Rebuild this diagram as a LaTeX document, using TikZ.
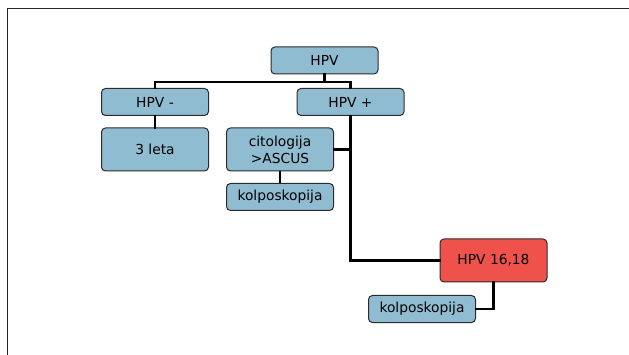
\documentclass[tikz,border=0pt]{standalone}
\usepackage{fontspec}
\setmainfont{DejaVu Sans}
\usetikzlibrary{positioning}

\definecolor{boxblue}{HTML}{8FBCD1}
\definecolor{boxred}{HTML}{EF524B}
\definecolor{boxline}{HTML}{2B2B2B}

\tikzset{
  box/.style={draw=boxline,line width=1pt,rounded corners=4pt,fill=boxblue,
    minimum width=107pt,minimum height=27pt,inner sep=0pt,align=center,
    font=\fontsize{13.8}{17}\selectfont},
  tall/.style={minimum height=43pt},
  link/.style={line width=2.6pt,line cap=rect},
  thin link/.style={line width=1.4pt}
}

\begin{document}
\begin{tikzpicture}[x=1pt,y=-1pt]
  \useasboundingbox (0,0) rectangle (629,355);
  \draw[line width=1.9pt,black!85] (7.5,356) |- (630,8.5);

  \node[box] (hpv) at (324.5,60.5) {HPV};
  \node[box] (neg) at (155,102) {HPV -};
  \node[box] (pos) at (350.5,102) {HPV +};
  \node[box,tall] (leta) at (155,149.5) {3 leta};
  \node[box,tall] (cito) at (280,149.5) {citologija\\>ASCUS};
  \node[box] (kolpa) at (280,197) {kolposkopija};
  \node[box,tall,fill=boxred] (hr) at (493.5,260.5) {HPV 16,18};
  \node[box] (kolpb) at (422,309) {kolposkopija};

  \coordinate (bar) at (0,82);
  \draw[link] (hpv.south) -- (hpv.south |- bar);
  \draw[link] (neg.north) |- (bar -| pos.north) -- (pos.north);
  \draw[link] (neg.south) -- (leta.north);
  \draw[link] (pos.south) |- (hr.west);
  \draw[link] (cito.east) -- (cito.east -| pos.south);
  \draw[thin link] (cito.south) -- (kolpa.north);
  \draw[link] (hr.south) |- (kolpb.east);
\end{tikzpicture}
\end{document}
